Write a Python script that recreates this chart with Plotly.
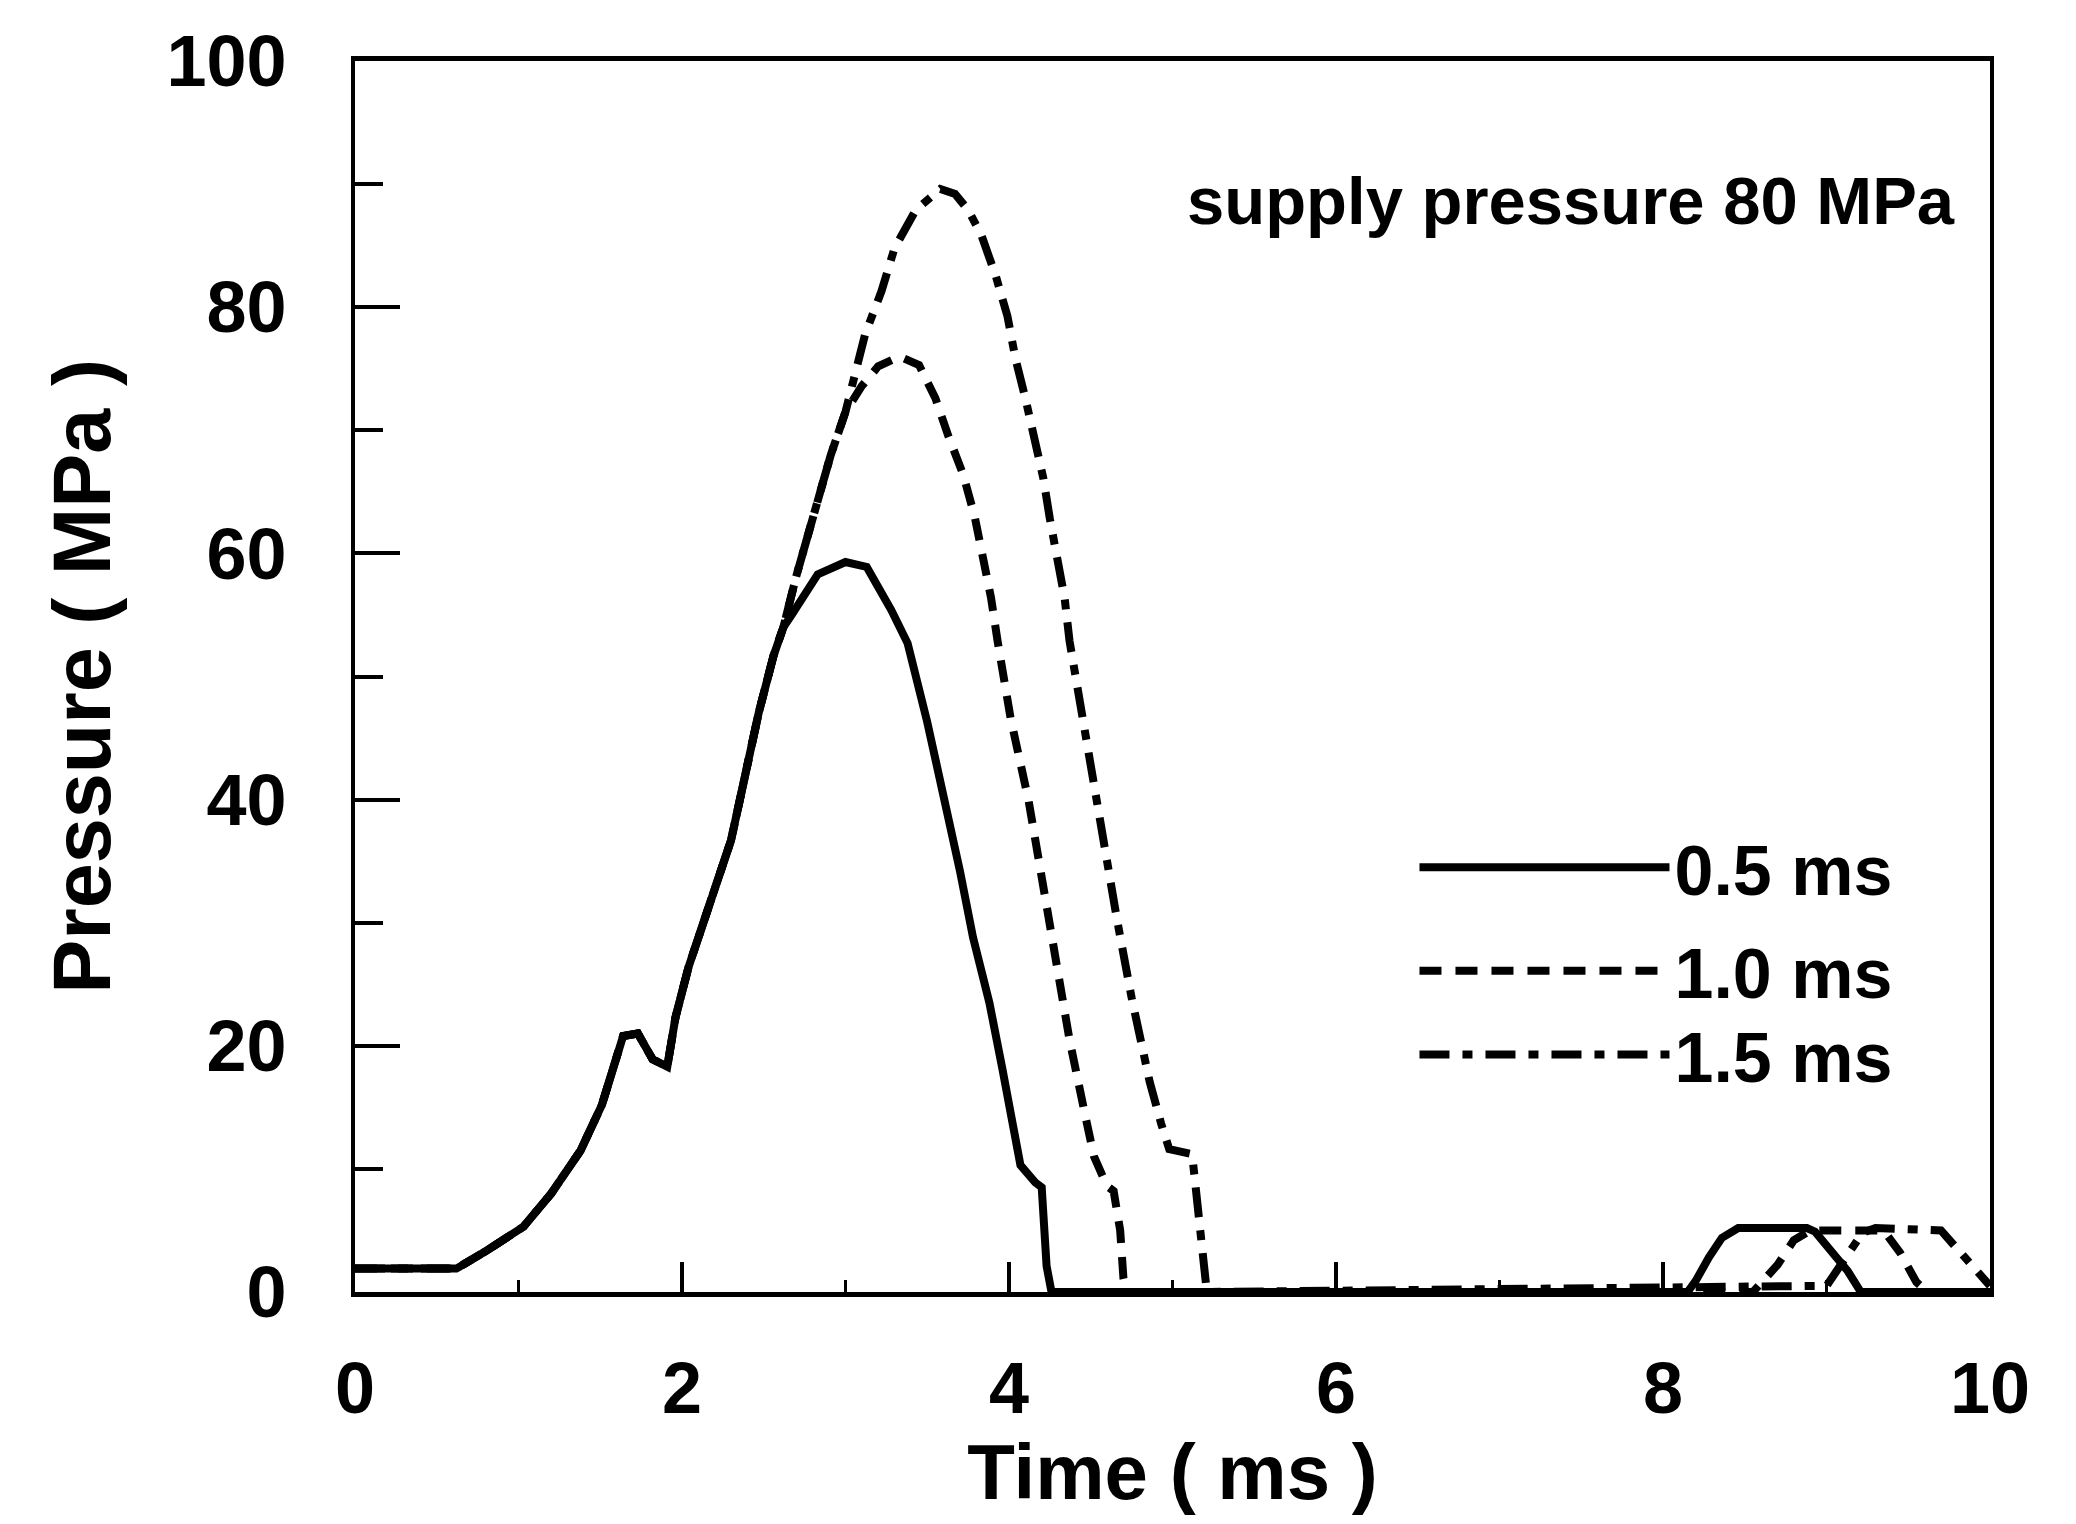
import plotly.graph_objects as go

# ---- data (time in ms, pressure in MPa) ----
t_05 = [0.0, 0.62, 0.81, 1.03, 1.20, 1.38, 1.51, 1.60, 1.64, 1.73, 1.82, 1.91, 1.96, 2.04, 2.17,
        2.30, 2.39, 2.47, 2.56, 2.62, 2.67, 2.83, 3.00, 3.13, 3.28, 3.38, 3.50, 3.60, 3.70, 3.78,
        3.88, 3.96, 4.02, 4.07, 4.16, 4.20, 4.23, 4.26, 8.15, 8.20, 8.28, 8.36, 8.46, 8.88, 8.93,
        9.13, 9.21, 10.0]
p_05 = [1.9, 1.9, 3.4, 5.3, 8.0, 11.5, 15.2, 18.9, 20.8, 21.0, 18.9, 18.3, 22.3, 26.4, 31.4,
        36.7, 42.2, 47.1, 51.7, 54.0, 55.0, 58.3, 59.3, 58.9, 55.4, 52.7, 46.3, 40.6, 34.2, 28.8,
        23.5, 18.1, 13.5, 10.3, 8.9, 8.5, 2.1, 0.0, 0.0, 0.9, 2.8, 4.4, 5.2, 5.2, 4.9,
        1.7, 0.0, 0.0]

t_10 = [0.0, 0.62, 0.81, 1.03, 1.20, 1.38, 1.51, 1.60, 1.64, 1.73, 1.82, 1.91, 1.96, 2.04, 2.17,
        2.30, 2.39, 2.47, 2.56, 2.62, 2.70, 2.76, 2.84, 2.91, 3.00, 3.10, 3.20, 3.33, 3.45, 3.55,
        3.63, 3.72, 3.79, 3.84, 3.89, 3.93, 3.97, 4.01, 4.12, 4.20, 4.28, 4.37, 4.47, 4.52, 4.60,
        4.64, 4.68, 4.70, 4.72, 8.55, 8.70, 8.80, 8.90, 9.35, 9.45, 9.55, 9.62, 10.0]
p_10 = [1.9, 1.9, 3.4, 5.3, 8.0, 11.5, 15.2, 18.9, 20.8, 21.0, 18.9, 18.3, 22.3, 26.4, 31.4,
        36.7, 42.2, 47.1, 51.7, 54.0, 58.2, 61.0, 65.1, 68.0, 71.5, 73.6, 75.2, 76.0, 75.3, 72.6,
        69.5, 66.4, 63.0, 59.7, 56.4, 52.9, 49.7, 46.6, 39.9, 33.8, 27.5, 20.5, 14.1, 11.0, 8.6,
        8.2, 5.0, 1.1, 0.0, 0.0, 2.2, 4.2, 5.0, 5.0, 3.2, 0.8, 0.0, 0.0]

t_15 = [0.0, 0.62, 0.81, 1.03, 1.20, 1.38, 1.51, 1.60, 1.64, 1.73, 1.82, 1.91, 1.96, 2.04, 2.17,
        2.30, 2.39, 2.47, 2.56, 2.62, 2.70, 2.76, 2.84, 2.91, 3.00, 3.12, 3.22, 3.30, 3.43, 3.58,
        3.67, 3.75, 3.83, 3.92, 3.99, 4.04, 4.10, 4.15, 4.21, 4.25, 4.29, 4.34, 4.37, 4.41, 4.50,
        4.58, 4.66, 4.75, 4.86, 4.93, 4.98, 5.12, 5.16, 5.19, 5.21, 9.00, 9.10, 9.22, 9.30, 9.70,
        9.80, 9.93, 10.0]
p_15 = [1.9, 1.9, 3.4, 5.3, 8.0, 11.5, 15.2, 18.9, 20.8, 21.0, 18.9, 18.3, 22.3, 26.4, 31.4,
        36.7, 42.2, 47.1, 51.7, 54.0, 58.2, 61.0, 65.1, 68.0, 71.5, 77.8, 81.3, 84.8, 87.9, 89.6,
        89.2, 87.9, 85.9, 82.5, 79.3, 75.8, 72.6, 69.5, 66.1, 62.8, 59.5, 56.4, 52.9, 49.7, 43.1,
        36.7, 30.3, 23.9, 17.1, 13.7, 11.6, 11.2, 6.0, 1.5, 0.0, 0.5, 2.5, 4.8, 5.2, 5.0,
        3.5, 1.5, 0.5]

series_names = ["0.5 ms", "1.0 ms", "1.5 ms"]
x_ticks = [0, 2, 4, 6, 8, 10]
y_ticks = [0, 20, 40, 60, 80, 100]
annotation_text = "supply pressure 80 MPa"
x_title = "Time ( ms )"
y_title = "Pressure ( MPa )"

SANS = "Liberation Sans, Arial, Helvetica, sans-serif"

fig = go.Figure()
fig.add_trace(go.Scatter(x=t_05, y=p_05, mode="lines", name=series_names[0],
                         line=dict(color="black", width=8), legend="legend"))
fig.add_trace(go.Scatter(x=t_10, y=p_10, mode="lines", name=series_names[1],
                         line=dict(color="black", width=8, dash="22px,14px"), legend="legend2"))
fig.add_trace(go.Scatter(x=t_15, y=p_15, mode="lines", name=series_names[2],
                         line=dict(color="black", width=8, dash="30px,13px,10px,13px"),
                         legend="legend3"))

leg = dict(font=dict(family=SANS, size=70, color="black", weight="bold"),
           bgcolor="rgba(0,0,0,0)",
           itemwidth=250, xanchor="left", yanchor="middle", x=0.648, borderwidth=0,
           itemclick=False, itemdoubleclick=False)

fig.update_layout(
    width=2076, height=1524,
    template="none",
    paper_bgcolor="white", plot_bgcolor="white",
    margin=dict(l=347, r=94, t=53, b=240),
    showlegend=True,
    legend=dict(leg, y=0.345),
    legend2=dict(leg, y=0.261),
    legend3=dict(leg, y=0.193),
    xaxis=dict(range=[0, 10], tickvals=x_ticks, ticktext=[str(v) for v in x_ticks],
               showgrid=False, zeroline=False, showline=True, mirror=True,
               linecolor="black", linewidth=5,
               ticks="inside", ticklen=30, tickwidth=4, tickcolor="black",
               minor=dict(dtick=1, tick0=0, ticks="inside", ticklen=12, tickwidth=3,
                          tickcolor="black", showgrid=False),
               tickfont=dict(family=SANS, size=72, color="black", weight="bold"),
               ticklabelstandoff=30, automargin=False,
               title=dict(text=x_title,
                          font=dict(family=SANS, size=78, color="black", weight="bold"),
                          standoff=16)),
    yaxis=dict(range=[0, 100], tickvals=y_ticks, ticktext=[str(v) for v in y_ticks],
               showgrid=False, zeroline=False, showline=True, mirror=True,
               linecolor="black", linewidth=4,
               ticks="inside", ticklen=45, tickwidth=4, tickcolor="black",
               minor=dict(dtick=10, tick0=0, ticks="inside", ticklen=28, tickwidth=4,
                          tickcolor="black", showgrid=False),
               tickfont=dict(family=SANS, size=72, color="black", weight="bold"),
               ticklabelstandoff=50, automargin=False,
               title=dict(text=y_title,
                          font=dict(family=SANS, size=81, color="black", weight="bold"),
                          standoff=30)),
    annotations=[dict(text=annotation_text, xref="paper", yref="paper", x=0.98, y=0.887,
                      xanchor="right", yanchor="middle", showarrow=False,
                      font=dict(family=SANS, size=67, color="black", weight="bold"))],
)

fig.write_html("out.html")
